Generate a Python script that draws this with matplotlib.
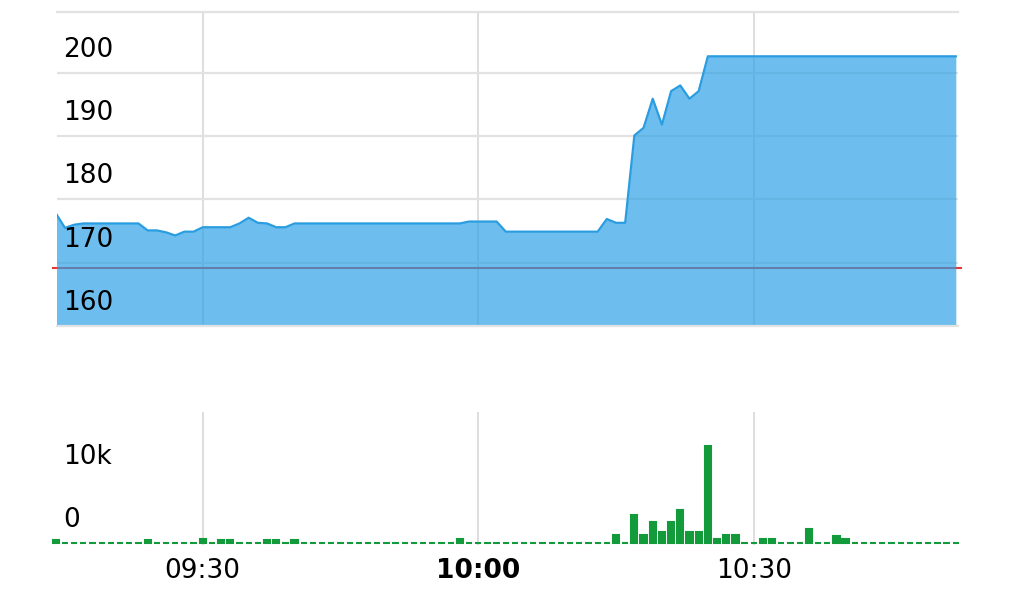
import numpy as np
import matplotlib
matplotlib.use("Agg")
import matplotlib.pyplot as plt

plt.rcParams['font.family'] = ['DejaVu Sans']

# minutes after 09:00, one point per minute (09:14 .. 10:52)
minutes = np.arange(14, 113)

# last price per minute
price = [
    177.8, 175.5, 176.0, 176.2, 176.2, 176.2, 176.2, 176.2, 176.2, 176.2,
    175.1, 175.1, 174.8, 174.3, 174.9, 174.9, 175.6, 175.6, 175.6, 175.6,
    176.2, 177.1, 176.3, 176.2, 175.6, 175.6, 176.2, 176.2, 176.2, 176.2,
    176.2, 176.2, 176.2, 176.2, 176.2, 176.2, 176.2, 176.2, 176.2, 176.2,
    176.2, 176.2, 176.2, 176.2, 176.2, 176.5, 176.5, 176.5, 176.5, 174.9,
    174.9, 174.9, 174.9, 174.9, 174.9, 174.9, 174.9, 174.9, 174.9, 174.9,
    176.9, 176.3, 176.3, 190.1, 191.3, 195.9, 191.8, 197.1, 198.0, 195.9,
    197.1, 202.6, 202.6, 202.6, 202.6, 202.6, 202.6, 202.6, 202.6, 202.6,
    202.6, 202.6, 202.6, 202.6, 202.6, 202.6, 202.6, 202.6, 202.6, 202.6,
    202.6, 202.6, 202.6, 202.6, 202.6, 202.6, 202.6, 202.6, 202.6,
]
prev_close = 169.2

# minutes with traded volume, everything else is 0
vol_minutes = [14, 24, 30, 32, 33, 37, 38, 40, 58,
               75, 77, 78, 79, 80, 81, 82, 83, 84, 85, 86, 87, 88,
               91, 92, 96, 99, 100]
vol_values = [500, 500, 600, 500, 500, 500, 500, 500, 600,
              1300, 4400, 1300, 3300, 1700, 3300, 5200, 1700, 1700, 15400, 600, 1300, 1300,
              600, 600, 2200, 1100, 600]

tick_minutes = [30, 60, 90]
tick_labels = ['09:30', '10:00', '10:30']
price_ticks = [160, 170, 180, 190, 200]
vol_ticks = [0, 10000]
vol_tick_labels = ['0', '10k']

vol_lookup = dict(zip(vol_minutes, vol_values))
volume = [vol_lookup.get(m, 0) for m in minutes]

fill_col = (40/255, 160/255, 230/255)
line_col = '#2a9de0'
green = '#139a3a'
grid_col = '#e2e2e2'

fig = plt.figure(figsize=(10.24, 6), dpi=100)
ax1 = fig.add_axes([57/1024, 274/600, 901/1024, 314/600])
ax2 = fig.add_axes([57/1024, 55/600, 901/1024, 133/600])

# price panel
ax1.fill_between(minutes, price, 160, color=fill_col, alpha=0.68, lw=0, zorder=2)
ax1.plot(minutes, price, color=line_col, lw=1.6, zorder=3)
ax1.axhline(prev_close, color='#e53935', lw=1.5, zorder=1.5,
            xmin=-0.004, xmax=1.003, clip_on=False)
ax1.set_xlim(14.13, 112.24)
ax1.set_ylim(160, 209.6)
ax1.set_yticks(price_ticks)
ax1.set_xticks(tick_minutes)
ax1.grid(axis='y', color=grid_col, lw=1.6)
ax1.grid(axis='x', color='#d8d8d8', lw=1.2)
ax1.set_axisbelow(True)
ax1.tick_params(length=0, labelleft=False, labelbottom=False)
for s in ['left', 'right']:
    ax1.spines[s].set_visible(False)
for s in ['top', 'bottom']:
    ax1.spines[s].set_color(grid_col)
    ax1.spines[s].set_linewidth(1.6)
for v in price_ticks:
    ax1.annotate(str(v), xy=(0, v), xycoords=('axes fraction', 'data'),
                 xytext=(4.5, 11.5), textcoords='offset points',
                 ha='left', va='baseline', fontsize=19, zorder=5)

# volume panel
ax2.bar(minutes, volume, width=0.68, color=green, edgecolor=green, lw=1.5,
        zorder=3, clip_on=False)
ax2.set_xlim(14.13, 112.24)
ax2.set_ylim(-320, 20800)
ax2.set_xticks(tick_minutes)
ax2.set_xticklabels(tick_labels, fontsize=19)
ax2.get_xticklabels()[1].set_fontweight('bold')
ax2.set_yticks([])
ax2.grid(axis='x', color='#d8d8d8', lw=1.2)
ax2.set_axisbelow(True)
ax2.tick_params(length=0, pad=9)
for s in ax2.spines.values():
    s.set_visible(False)
for v, lab in zip(vol_ticks, vol_tick_labels):
    ax2.annotate(lab, xy=(0, v), xycoords=('axes fraction', 'data'),
                 xytext=(4.5, 11.5), textcoords='offset points',
                 ha='left', va='baseline', fontsize=19, zorder=5)

fig.savefig('out.png', dpi=100)
